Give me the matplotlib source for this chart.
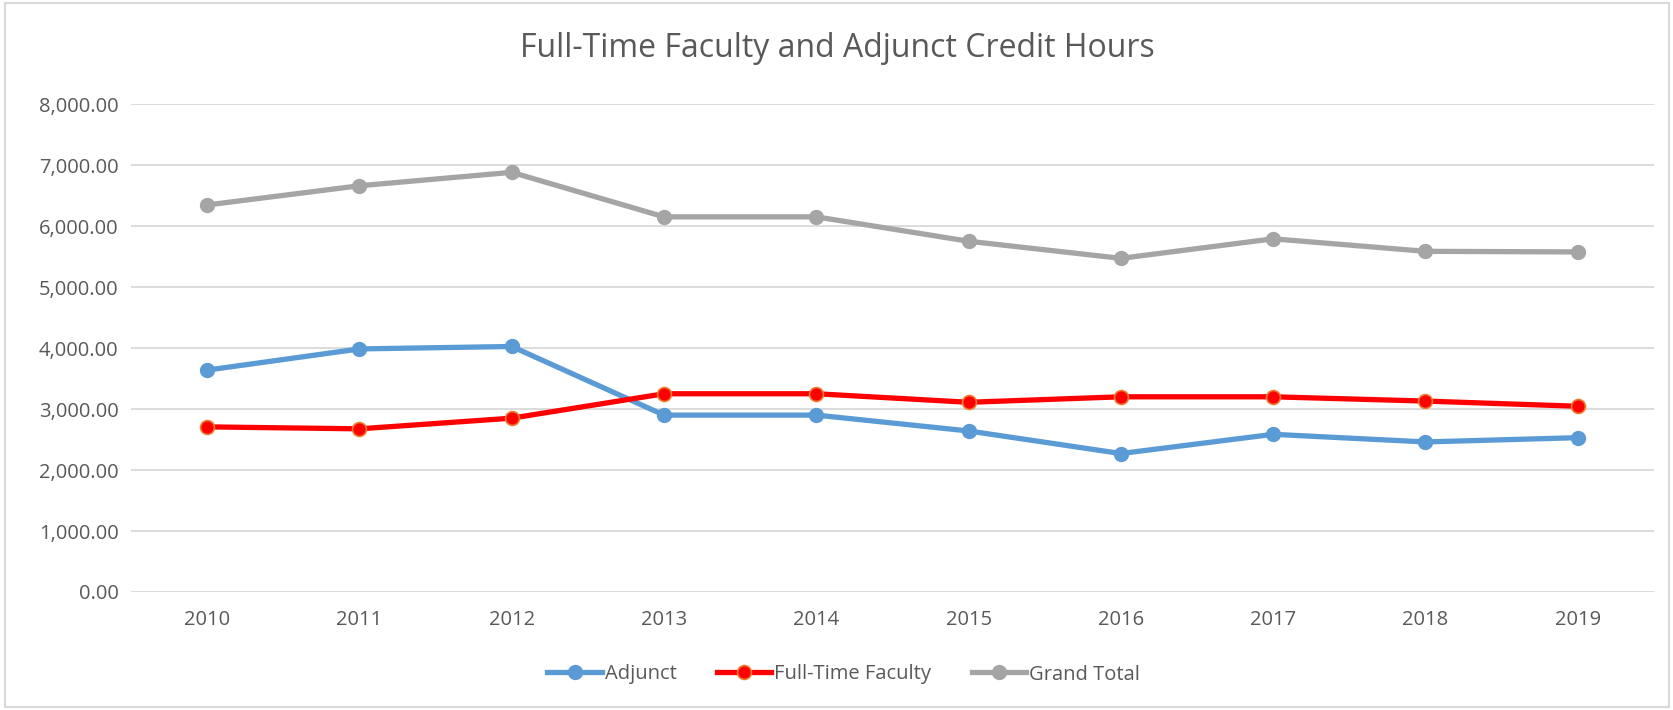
import matplotlib.pyplot as plt
from matplotlib.patches import Rectangle
from matplotlib.ticker import FuncFormatter

# Daten
years = ["2010", "2011", "2012", "2013", "2014", "2015", "2016", "2017", "2018", "2019"]
adjunct = [3638, 3985, 4025, 2900, 2900, 2640, 2270, 2585, 2460, 2530]
full_time = [2707, 2675, 2850, 3250, 3250, 3110, 3200, 3200, 3130, 3045]
grand_total = [6345, 6660, 6880, 6150, 6150, 5750, 5470, 5790, 5585, 5575]

text_color = "#595959"
plt.rcParams["font.family"] = ["Open Sans", "DejaVu Sans"]

fig = plt.figure(figsize=(16.74, 7.10), dpi=100)
ax = fig.add_axes([0.0783, 0.1662, 0.9097, 0.6873])

x = list(range(len(years)))

ax.plot(x, adjunct, color="#5B9BD5", lw=3.8, marker="o", ms=10,
        mfc="#5B9BD5", mec="#5B9BD5", label="Adjunct", zorder=3)
ax.plot(x, full_time, color="#FF0000", lw=3.8, marker="o", ms=10,
        mfc="#FF0000", mec="#ED7D31", mew=1.2, label="Full-Time Faculty", zorder=3)
ax.plot(x, grand_total, color="#A5A5A5", lw=3.8, marker="o", ms=10,
        mfc="#A5A5A5", mec="#A5A5A5", label="Grand Total", zorder=3)

ax.set_xlim(-0.5, len(years) - 0.5)
ax.set_ylim(0, 8000)
ax.set_yticks(range(0, 8001, 1000))
ax.yaxis.set_major_formatter(FuncFormatter(lambda v, p: f"{v:,.2f}"))
ax.set_xticks(x)
ax.set_xticklabels(years)

ax.grid(axis="y", color="#D9D9D9", lw=1.3)
ax.set_axisbelow(True)
for s in ax.spines.values():
    s.set_visible(False)
ax.tick_params(length=0, labelsize=14.5, colors=text_color)
ax.tick_params(axis="y", pad=9)
ax.tick_params(axis="x", pad=13)

fig.text(0.5, 0.931, "Full-Time Faculty and Adjunct Credit Hours",
         ha="center", va="center", fontsize=23, color=text_color)

leg = fig.legend(loc="center", bbox_to_anchor=(0.504, 0.05), ncol=3,
                 frameon=False, fontsize=14.5, handlelength=2.7,
                 columnspacing=2.0, handletextpad=0.15)
for t in leg.get_texts():
    t.set_color(text_color)

# Rahmen um das Diagramm
fig.add_artist(Rectangle((0.003, 0.004), 0.994, 0.992, transform=fig.transFigure,
                         fill=False, edgecolor="#D9D9D9", lw=1.5))

fig.savefig("out.png", dpi=100)
